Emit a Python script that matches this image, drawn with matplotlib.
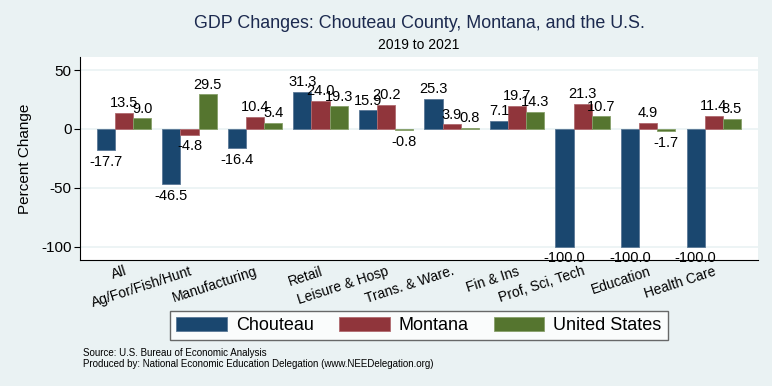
import matplotlib.pyplot as plt
import numpy as np

plt.rcParams['font.family'] = ['Liberation Sans', 'DejaVu Sans']

categories = ['All', 'Ag/For/Fish/Hunt', 'Manufacturing', 'Retail', 'Leisure & Hosp',
              'Trans. & Ware.', 'Fin & Ins', 'Prof, Sci, Tech', 'Education', 'Health Care']
chouteau = [-17.7, -46.5, -16.4, 31.3, 15.9, 25.3, 7.1, -100.0, -100.0, -100.0]
montana = [13.5, -4.8, 10.4, 24.0, 20.2, 3.9, 19.7, 21.3, 4.9, 11.4]
united_states = [9.0, 29.5, 5.4, 19.3, -0.8, 0.8, 14.3, 10.7, -1.7, 8.5]
series_names = ['Chouteau', 'Montana', 'United States']
yticks = [50, 0, -50, -100]

bg = '#eaf2f3'
colors = ['#1a476f', '#90353b', '#55752f']
edges = ['#5a7896', '#b06a6f', '#87a06a']

fig = plt.figure(figsize=(7.72, 3.86), dpi=100, facecolor=bg)
ax = fig.add_axes([80 / 772, 126 / 386, 678 / 772, 203 / 386])
ax.set_facecolor('white')

x = np.arange(len(categories))
w = 0.277
for i, (vals, name) in enumerate(zip([chouteau, montana, united_states], series_names)):
    pos = x + (i - 1) * w
    ax.bar(pos, vals, width=w, color=colors[i], edgecolor=edges[i], linewidth=0.6,
           label=name, zorder=2)
    for px, v in zip(pos, vals):
        if v >= 0:
            ax.annotate('%.1f' % v, (px, v), xytext=(0, 2), textcoords='offset points',
                        ha='center', va='bottom', fontsize=10.5, clip_on=False, zorder=3)
        else:
            ax.annotate('%.1f' % v, (px, v), xytext=(0, -3.5), textcoords='offset points',
                        ha='center', va='top', fontsize=10.5, clip_on=False, zorder=3)

ax.set_xlim(-0.67, 9.675)
ax.set_ylim(-111.4, 61.2)
ax.set_yticks(yticks)
ax.set_yticklabels([str(t) for t in yticks], fontsize=11)
ax.yaxis.grid(True, color=bg, linewidth=1.2, zorder=0)
ax.set_axisbelow(True)
ax.tick_params(axis='y', length=4, width=0.8, pad=2)

ax.set_xticks(x)
ax.set_xticklabels(categories, rotation=18, ha='right', va='top',
                   rotation_mode='anchor', fontsize=10)
ax.tick_params(axis='x', length=0, pad=3)

for s in ['top', 'right']:
    ax.spines[s].set_visible(False)
for s in ['left', 'bottom']:
    ax.spines[s].set_color('black')
    ax.spines[s].set_linewidth(0.8)

fig.text(25 / 772, 1 - 158.5 / 386, 'Percent Change', rotation=90,
         ha='center', va='center', fontsize=11)

fig.text(419 / 772, 1 - 24 / 386, 'GDP Changes: Chouteau County, Montana, and the U.S.',
         ha='center', va='center', fontsize=12.9, color='#1c2a4f')
fig.text(419 / 772, 1 - 45 / 386, '2019 to 2021', ha='center', va='center', fontsize=10)

leg = fig.legend(loc='center', bbox_to_anchor=(419 / 772, 1 - 325.5 / 386), ncol=3,
                 fontsize=13, frameon=True, fancybox=False, edgecolor='#444444',
                 handlelength=2.8, handleheight=0.8, columnspacing=1.4,
                 handletextpad=0.5, borderpad=0.35)
leg.get_frame().set_linewidth(1.0)

fig.text(83 / 772, 1 - 353 / 386, 'Source: U.S. Bureau of Economic Analysis',
         ha='left', va='center', fontsize=7)
fig.text(83 / 772, 1 - 364 / 386,
         'Produced by: National Economic Education Delegation (www.NEEDelegation.org)',
         ha='left', va='center', fontsize=7)

fig.savefig('out.png', dpi=100, facecolor=bg)
